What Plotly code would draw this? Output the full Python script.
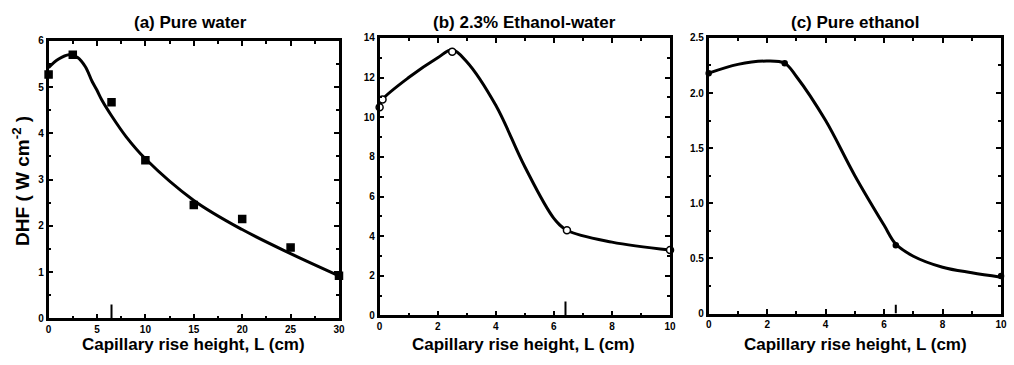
import plotly.graph_objects as go

# ---------------- data ----------------
# (a) Pure water
a_x = [0, 2.5, 6.5, 10, 15, 20, 25, 30]
a_y = [5.27, 5.7, 4.67, 3.42, 2.45, 2.15, 1.53, 0.92]
a_cx = [0, 1, 2.1, 3, 3.8, 4.5, 5, 5.5, 6.5, 8, 10, 15, 20, 25, 30]
a_cy = [5.42, 5.6, 5.7, 5.64, 5.44, 5.12, 4.93, 4.72, 4.38, 3.93, 3.45, 2.55, 1.92, 1.4, 0.92]

# (b) 2.3% Ethanol-water
b_x = [0, 0.1, 2.5, 6.45, 10]
b_y = [10.5, 10.9, 13.3, 4.3, 3.3]
b_cx = [0, 0.1, 1, 2, 2.5, 3, 4, 5, 6, 6.45, 8, 10]
b_cy = [10.6, 10.9, 12.0, 13.0, 13.4, 12.8, 10.6, 7.5, 4.9, 4.3, 3.7, 3.3]

# (c) Pure ethanol
c_x = [0, 2.6, 6.4, 10]
c_y = [2.18, 2.27, 0.62, 0.34]
c_cx = [0, 1, 2, 2.6, 3, 4, 5, 6, 6.4, 7, 8, 9, 10]
c_cy = [2.18, 2.26, 2.29, 2.27, 2.15, 1.75, 1.25, 0.8, 0.63, 0.52, 0.42, 0.37, 0.33]

# vertical marks on the x axis
mark_x = [6.5, 6.4, 6.4]
mark_h = [0.3, 0.7, 0.08]

titles = ["(a) Pure water", "(b) 2.3% Ethanol-water", "(c) Pure ethanol"]
x_title = "Capillary rise height, L (cm)"
y_title = "DHF ( W cm<sup>-2</sup> )"

a_xt = [0, 5, 10, 15, 20, 25, 30]
a_yt = [0, 1, 2, 3, 4, 5, 6]
b_xt = [0, 2, 4, 6, 8, 10]
b_yt = [0, 2, 4, 6, 8, 10, 12, 14]
c_xt = [0, 2, 4, 6, 8, 10]
c_yt = [0, 0.5, 1.0, 1.5, 2.0, 2.5]
c_ytl = ["0", "0.5", "1.0", "1.5", "2.0", "2.5"]

FONT = "Liberation Sans"
W, H = 1014, 365
fig = go.Figure()

panels = [
    dict(x=a_x, y=a_y, cx=a_cx, cy=a_cy, sym="square", fill="black", size=7,
         xd=[46 / W, 339 / W], yd=[(H - 323) / H, (H - 36) / H], xr=[0, 30], yr=[0, 6],
         xt=a_xt, yt=a_yt, ytl=[str(v) for v in a_yt], xm=2.5, ym=0.5),
    dict(x=b_x, y=b_y, cx=b_cx, cy=b_cy, sym="circle", fill="white", size=7,
         xd=[380 / W, 673 / W], yd=[(H - 320) / H, (H - 33) / H], xr=[0, 10], yr=[0, 14],
         xt=b_xt, yt=b_yt, ytl=[str(v) for v in b_yt], xm=1, ym=1),
    dict(x=c_x, y=c_y, cx=c_cx, cy=c_cy, sym="circle", fill="black", size=5,
         xd=[712 / W, 1007 / W], yd=[(H - 318) / H, (H - 33) / H], xr=[0, 10], yr=[0, 2.5],
         xt=c_xt, yt=c_yt, ytl=c_ytl, xm=1, ym=0.25),
]

for i, p in enumerate(panels):
    n = "" if i == 0 else str(i + 1)
    xa, ya = "x" + n, "y" + n
    fig.add_trace(go.Scatter(x=p["cx"], y=p["cy"], mode="lines",
                             line=dict(color="black", width=3, shape="spline", smoothing=1.0),
                             xaxis=xa, yaxis=ya, showlegend=False, cliponaxis=False))
    fig.add_trace(go.Scatter(x=p["x"], y=p["y"], mode="markers",
                             marker=dict(symbol=p["sym"], size=p["size"], color=p["fill"],
                                         line=dict(color="black", width=1.5)),
                             xaxis=xa, yaxis=ya, showlegend=False, cliponaxis=False))
    fig.add_trace(go.Scatter(x=[mark_x[i], mark_x[i]], y=[0, mark_h[i]], mode="lines",
                             line=dict(color="black", width=2),
                             xaxis=xa, yaxis=ya, showlegend=False))
    common = dict(showline=True, linecolor="black", linewidth=2.5, mirror="allticks",
                  ticks="inside", ticklen=5, tickwidth=2, tickcolor="black",
                  showgrid=False, zeroline=False,
                  tickfont=dict(family=FONT, size=10, color="black", weight="bold"))
    fig.layout["xaxis" + n] = dict(domain=p["xd"], range=p["xr"], anchor=ya,
                                   tickvals=p["xt"], ticktext=[str(v) for v in p["xt"]],
                                   minor=dict(ticks="inside", ticklen=3, tickwidth=1.5,
                                              dtick=p["xm"], tick0=0, tickcolor="black"),
                                   **common)
    fig.layout["yaxis" + n] = dict(domain=p["yd"], range=p["yr"], anchor=xa,
                                   tickvals=p["yt"], ticktext=p["ytl"],
                                   minor=dict(ticks="inside", ticklen=3, tickwidth=1.5,
                                              dtick=p["ym"], tick0=0, tickcolor="black"),
                                   **common)

title_x = [189, 526, 860]
xt_x = [192, 525, 860]
for t, xc, xc2 in zip(titles, title_x, xt_x):
    fig.add_annotation(text=t, x=xc / W, y=1 - 17 / H, xref="paper", yref="paper",
                       showarrow=False, xanchor="center", yanchor="middle",
                       font=dict(family=FONT, size=17, color="black", weight="bold"))
    fig.add_annotation(text=x_title, x=xc2 / W, y=1 - 350 / H, xref="paper", yref="paper",
                       showarrow=False, xanchor="center", yanchor="middle",
                       font=dict(family=FONT, size=17, color="black", weight="bold"))

fig.add_annotation(text=y_title, x=18 / W, y=1 - 181 / H, xref="paper", yref="paper",
                   showarrow=False, xanchor="center", yanchor="middle", textangle=-90,
                   font=dict(family=FONT, size=19, color="black", weight="bold"))

fig.update_layout(width=W, height=H, margin=dict(l=0, r=0, t=0, b=0),
                  paper_bgcolor="white", plot_bgcolor="white",
                  font=dict(family=FONT, color="black"))

fig.write_html("out.html")
